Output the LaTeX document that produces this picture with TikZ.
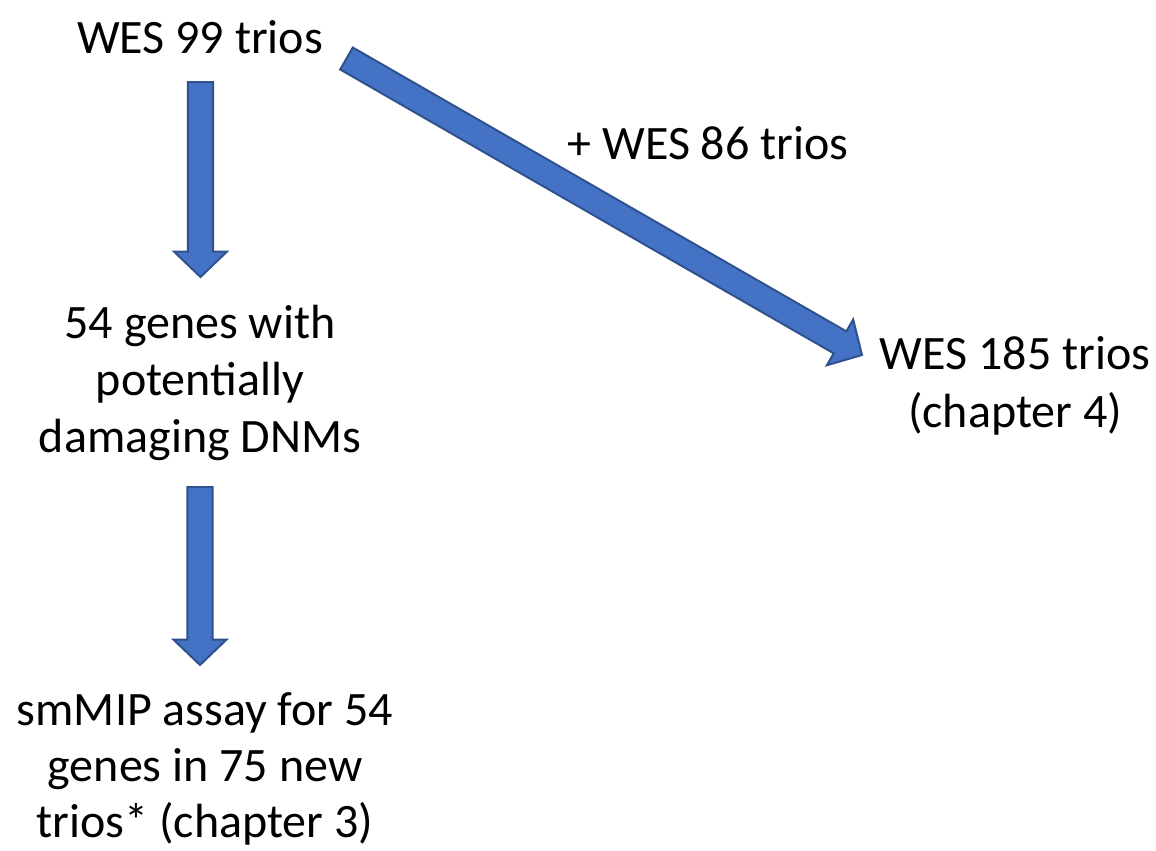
\documentclass[tikz,border=0pt]{standalone}
\usepackage{fontspec}
\setmainfont{Carlito}
\usetikzlibrary{calc}
\definecolor{arrowfill}{HTML}{4472C4}
\definecolor{arrowline}{HTML}{2F528F}
\tikzset{
  lbl/.style={align=center, inner sep=0pt, font=\fontsize{36}{43}\selectfont},
  blockarrowstyle/.style={fill=arrowfill, draw=arrowline, line width=1.5pt, line join=miter}
}
% block arrow from coordinate #1 to coordinate #2
\newcommand\blockarr[2]{%
  \coordinate (h) at ($(#2)!19pt!(#1)$);
  \draw[blockarrowstyle]
    ($(#1)!9.5pt!90:(#2)$) -- ($(h)!9.5pt!-90:(#1)$) -- ($(h)!19.8pt!-90:(#1)$)
    -- (#2) -- ($(h)!19.8pt!90:(#1)$) -- ($(h)!9.5pt!90:(#1)$)
    -- ($(#1)!9.5pt!-90:(#2)$) -- cycle;
}
\begin{document}
\begin{tikzpicture}[x=0.75pt, y=-0.75pt]
\useasboundingbox (0,0) rectangle (1156,850);

\node[lbl] (wes99) at (200,37) {WES 99 trios};
\node[lbl] (genes) at (200,383) {54 genes with\\potentially\\damaging DNMs};
\node[lbl, font=\fontsize{36}{42}\selectfont] (smmip) at (205,769) {smMIP assay for 54\\genes in 75 new\\trios* (chapter 3)};
\node[lbl] (add86) at (708,143) {+ WES 86 trios};
\node[lbl] (wes185) at (1015,386) {WES 185 trios\\(chapter 4)};

\coordinate (a1s) at (200.5,82);
\coordinate (a1e) at (200.5,277);
\coordinate (a2s) at (200,487);
\coordinate (a2e) at (200,665);
\coordinate (a3s) at (346.5,58.5);
\coordinate (a3e) at (862,355);

\blockarr{a1s}{a1e}
\blockarr{a2s}{a2e}
\blockarr{a3s}{a3e}
\end{tikzpicture}
\end{document}
